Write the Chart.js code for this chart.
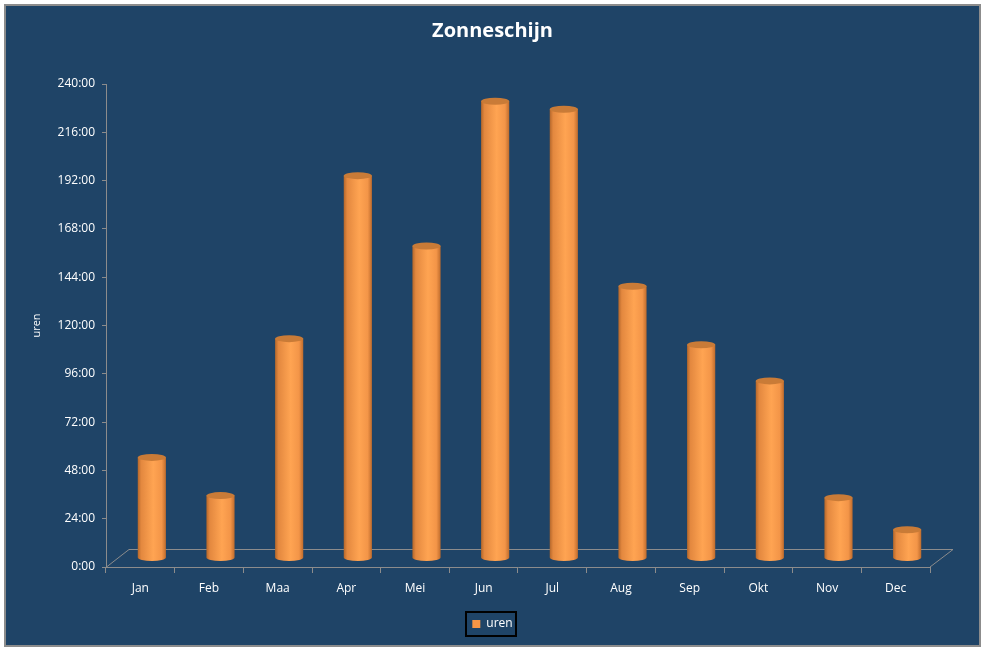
<!DOCTYPE html>
<html>
<head>
<meta charset="utf-8">
<title>Zonneschijn</title>
<script src="https://cdn.jsdelivr.net/npm/chart.js@4.4.1/dist/chart.umd.min.js"></script>
<style>
body{margin:0;background:#fff;}
#box{position:absolute;left:4px;top:4px;width:973px;height:639px;border:2px solid #8c8c8c;background:#1f4467;}
canvas{display:block;}
</style>
</head>
<body>
<div id="box"><canvas id="chart" width="973" height="639"></canvas></div>
<script>
// Data

const months = ["Jan","Feb","Maa","Apr","Mei","Jun","Jul","Aug","Sep","Okt","Nov","Dec"];

const uren = [50,31,109,190,155,227,223,135,106,88,30,14];

const yTicks = [0,24,48,72,96,120,144,168,192,216,240];

// 3D look

const depthX = 23;
const depthY = 18;

const labelFont = {family:"Open Sans",size:12};

const cylinders = {
id:"cylinders",
beforeDatasetsDraw(chart){

const ctx = chart.ctx;
const xs = chart.scales.x;
const ys = chart.scales.y;
const y0 = ys.getPixelForValue(0);

ctx.save();

// floor
ctx.strokeStyle="#8c8c8c";
ctx.lineWidth=1;
ctx.beginPath();
ctx.moveTo(xs.left+0.5,y0);
ctx.lineTo(xs.left+depthX,y0-depthY+0.5);
ctx.lineTo(xs.right+depthX,y0-depthY+0.5);
ctx.lineTo(xs.right,y0);
ctx.stroke();

// bars as cylinders, placed halfway into the depth
const dx = depthX/2;
const dy = depthY/2;

chart.getDatasetMeta(0).data.forEach(function(bar){

const w = bar.width;
const cx = bar.x+dx;
const l = cx-w/2;
const r = cx+w/2;
const top = bar.y-dy;
const base = bar.base-dy;
const ry = 3.5;

const g = ctx.createLinearGradient(l,0,r,0);
g.addColorStop(0,"#b4672b");
g.addColorStop(0.12,"#e3883f");
g.addColorStop(0.55,"#ffa452");
g.addColorStop(0.85,"#f39548");
g.addColorStop(1,"#bf6c2d");

ctx.fillStyle=g;
ctx.beginPath();
ctx.moveTo(l,top);
ctx.lineTo(l,base);
ctx.ellipse(cx,base,w/2,ry,0,Math.PI,0,true);
ctx.lineTo(r,top);
ctx.closePath();
ctx.fill();

ctx.fillStyle="#c97b37";
ctx.beginPath();
ctx.ellipse(cx,top,w/2,ry,0,0,Math.PI*2);
ctx.fill();

});

ctx.restore();

return false;

}
};

// black frame round the legend

const legendBox = {
id:"legendBox",
afterDraw(chart){

const hb = chart.legend.legendHitBoxes[0];
if(!hb) return;

const ctx = chart.ctx;
ctx.save();
ctx.strokeStyle="#000";
ctx.lineWidth=2;
ctx.strokeRect(Math.round(hb.left-6),Math.round(hb.top-6),Math.round(hb.width+10),Math.round(hb.height+12));
ctx.restore();

}
};

new Chart(
document.getElementById("chart"),
{
type:"bar",
data:{
labels:months,
datasets:[{
label:"uren",
data:uren,
backgroundColor:"#f79646",
barPercentage:0.41,
categoryPercentage:1
}]
},
options:{
responsive:false,
animation:false,
layout:{padding:{left:49,right:49,top:0,bottom:5}},
plugins:{
title:{
display:true,
text:"Zonneschijn",
color:"#ffffff",
font:{family:"Open Sans",size:20,weight:"bold"},
padding:{top:13,bottom:41}
},
legend:{
position:"bottom",
labels:{
color:"#ffffff",
font:labelFont,
boxWidth:8,
boxHeight:8,
padding:10
}
},
tooltip:{enabled:false}
},
scales:{
x:{
afterFit(s){ s.height=41; },
grid:{drawOnChartArea:false,color:"#8c8c8c",tickLength:6,offset:true},
border:{color:"#8c8c8c"},
ticks:{color:"#ffffff",font:labelFont,padding:8}
},
y:{
min:0,
max:240,
afterBuildTicks(s){ s.ticks=yTicks.map(v=>({value:v})); },
afterFit(s){ s.width=51; },
grid:{drawOnChartArea:false,color:"#8c8c8c",tickLength:4},
border:{color:"#8c8c8c"},
ticks:{color:"#ffffff",font:labelFont,padding:7,callback:v=>v+":00"},
title:{display:true,text:"uren",color:"#ffffff",font:{family:"Open Sans",size:11},padding:{top:-25,bottom:0}}
}
}
},
plugins:[cylinders,legendBox]
}
);
</script>
</body>
</html>
